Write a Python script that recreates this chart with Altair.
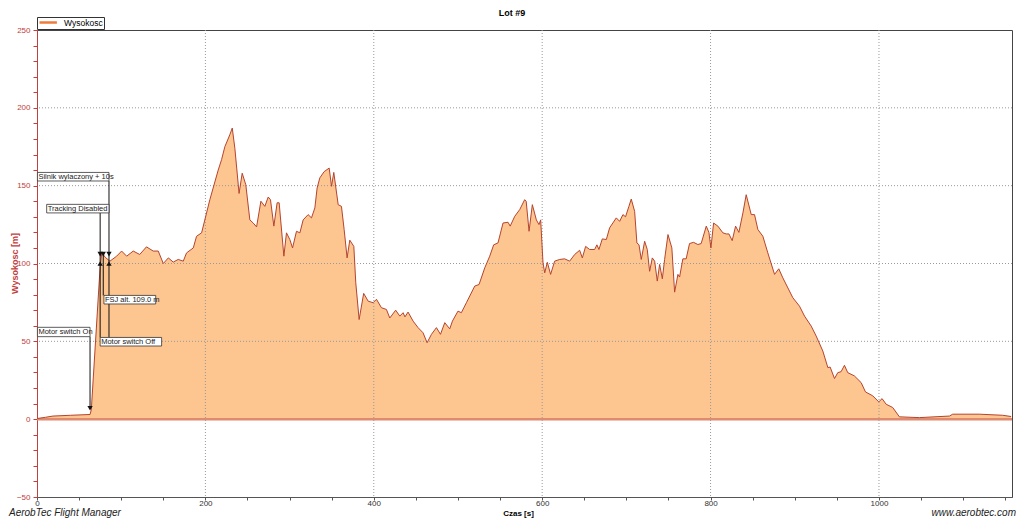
import altair as alt
import pandas as pd

TITLE = "Lot #9"
SERIES = "Wysokosc"
X_TITLE = "Czas [s]"
Y_TITLE = "Wysokosc [m]"
FOOT_LEFT = "AerobTec Flight Manager"
FOOT_RIGHT = "www.aerobtec.com"

times = [0, 10, 19, 40, 63, 64.5, 75, 77, 81, 86.6, 94.6, 100.5, 106.5, 114.3, 122, 130, 138, 144,
         150, 156, 161.8, 167.7, 173.7, 177.6, 185.6, 189.5, 195.5, 205.3, 215.2, 219.2, 223.1, 229,
         231.9, 235, 240, 243.7, 248, 252.8, 256.8, 260.8, 265.9, 270.6, 274.6, 277.3, 281.3, 285.2,
         287.6, 293.2, 296.3, 300.3, 303.5, 308.2, 312.2, 316.1, 322, 326, 330, 332.7, 335.9, 341,
         347, 349.8, 352.5, 357.7, 361.6, 364.8, 368.3, 371.5, 376.3, 378.6, 382.6, 388, 393.3,
         399.2, 403.2, 409.1, 415, 419, 426, 430.9, 434.8, 437, 440.7, 446.7, 452.6, 458.5, 463.3,
         468.5, 474.4, 479.2, 484.3, 490.2, 493.4, 500, 504, 510, 519.9, 525, 531.8, 537.7, 542.4,
         547.5, 553.5, 559.4, 562, 567.4, 573.3, 579.2, 581, 584.4, 588.3, 593.1, 596.2, 598.2, 601,
         603, 606.1, 610, 614.8, 620.8, 626.7, 632.6, 638.6, 644.5, 647.7, 651.6, 656.4, 662.3, 665,
         667.4, 671.4, 676.2, 680.1, 688, 692, 695.9, 699, 703, 705.8, 709.8, 712.5, 715, 717.7,
         721.7, 724.8, 727.6, 730.8, 733.6, 736.7, 739.5, 742.7, 745.4, 749.4, 754, 757.3, 761.2,
         763.2, 767.1, 771, 775, 779.7, 784.9, 788.8, 794.9, 798, 800.4, 803.6, 808.7, 814.6, 818.6,
         821.8, 825.7, 829.7, 833.6, 838.4, 842.3, 848.3, 852.2, 856.2, 862.1, 868, 876, 881, 885.8,
         897.7, 905.6, 911.6, 919.5, 925.4, 933.3, 939.3, 942, 947.2, 951.1, 955, 959, 962.9, 970.8,
         978.8, 984, 992.6, 999.8, 1003.7, 1008.5, 1016.3, 1024.3, 1048, 1083.7, 1087.6, 1119, 1147,
         1157]
alts = [0.4, 1.2, 2, 2.5, 3, 6, 98, 107, 104, 101.5, 104.7, 108, 104.7, 108, 105.8, 110.7, 108, 108,
        100, 103.6, 100.9, 102.6, 101.5, 106.8, 110, 117.5, 119.7, 141, 160, 166.7, 175, 182.7,
        187, 174, 145, 158, 150.6, 128, 126, 123.5, 140, 136.7, 142.7, 141, 124, 139,
        139, 104.7, 119.7, 115.4, 110, 120.7, 119.7, 128, 131.4, 129.3, 135.7, 148.5, 155, 159,
        161.3, 149.6, 158.5, 137.8, 136.7, 121.8, 103.6, 115, 111, 87.6, 64, 80.8, 75.8,
        74.8, 77, 71.6, 70.5, 65, 70, 66.2, 68.4, 65.7, 68.8, 63, 58.8, 55.5, 49.1,
        54.5, 58.8, 54.5, 62, 58, 63, 69.4, 68.4, 74.8, 85.5, 86.5, 97.2, 104.7, 112,
        113.2, 126, 126.5, 124, 130.3, 134.6, 141, 140, 120.7, 137.8, 128, 125, 128, 100.4,
        94, 100.8, 93, 101.5, 102.6, 103, 101.5, 105.8, 108.5, 103.6, 111, 109, 109, 112,
        109, 115.8, 115.4, 122.9, 129.3, 127.1, 131.4, 130, 136.7, 141.4, 133.5, 113.2, 112, 102.6,
        114.3, 109, 95, 103.6, 101.5, 88.7, 99.4, 90.2, 102.6, 118.6, 110, 81.6, 93,
        91.3, 103, 103, 112.8, 113.6, 112.2, 112.8, 124, 120, 110, 126, 124, 119.7, 119,
        119, 114.7, 124, 120, 132.5, 144.2, 131.4, 131.4, 121.8, 117.5, 106.8, 93, 96.6, 90.8,
        78, 72.6, 66.2, 59.8, 53.4, 43.8, 33.1, 33.5, 26.1, 29.9, 30.5, 34.6, 29.9, 27.8,
        23.5, 17.5, 15, 11.1, 13.2, 9.6, 7.5, 1.5, 1, 2, 3.2, 3.2, 2.5,
        1.7]

x_ticks = list(range(0, 1151, 50))
y_ticks = list(range(-50, 251, 10))
x_grid = [200, 400, 600, 800, 1000]
y_grid = [50, 100, 150, 200]
x_domain = [0, 1158]
y_domain = [-50, 250]

# annotation boxes (event labels)
ann_labels = ["Motor switch On", "Silnik wylaczony + 10s", "Tracking Disabled",
              "FSJ alt. 109.0 m", "Motor switch Off"]
ann_t0 = [0.5, 0.5, 11.5, 79.5, 75]
ann_t1 = [63, 85.5, 85.5, 141, 148]
ann_v0 = [53, 153, 132.5, 74, 47]
ann_v1 = [59, 158.5, 138, 79.5, 52.5]

# connector lines
conn_t = [63, 75, 78.7, 85.5]
conn_v0 = [7, 52.5, 79.5, 52.5]
conn_v1 = [53, 132.5, 106, 153]

# event markers
mark_t = [63, 75, 78.7, 85.5, 75, 85.5]
mark_v = [7, 106, 106, 106, 100, 100]
mark_dir = ["down", "down", "down", "down", "up", "up"]

FONT = "Liberation Sans"
RED = "#C04040"

df = pd.DataFrame({"t": times, "v": alts, "series": SERIES})
xs = alt.Scale(domain=x_domain, nice=False, zero=False)
ys = alt.Scale(domain=y_domain, nice=False, zero=False)

x_axis = alt.Axis(values=x_ticks, format="d",
                  labelExpr="datum.value % 200 == 0 ? datum.label : ''",
                  grid=False, tickSize=3, tickColor="#555", domainColor="#555",
                  labelColor="#333", labelFontSize=8, labelFont=FONT, labelPadding=-1,
                  labelOverlap=False, labelFlush=False, title=X_TITLE, titleFont=FONT,
                  titleFontSize=8, titleFontWeight="bold", titleColor="#000",
                  titleBaseline="alphabetic", titleY=18, titleX=481, titleAlign="center")
y_axis = alt.Axis(values=y_ticks, format="d",
                  labelExpr="datum.value % 50 == 0 ? datum.label : ''",
                  grid=False, tickSize=4, tickColor=RED, domainColor=RED,
                  labelColor=RED, labelFontSize=8, labelFont=FONT, labelPadding=3,
                  labelOverlap=False, labelFlush=False, title=Y_TITLE, titleFont=FONT,
                  titleFontSize=9, titleFontWeight="bold", titleColor=RED,
                  titleX=-23, titleY=233, titleAngle=270, titleBaseline="middle",
                  titleAlign="center")


def X(field):
    return alt.X(field, scale=xs, axis=x_axis)


def Y(field):
    return alt.Y(field, scale=ys, axis=y_axis)


area = alt.Chart(df).mark_area(color="#FDC590", opacity=1).encode(
    x=X("t:Q"), y=Y("v:Q"), y2=alt.datum(0))

gx = alt.Chart(pd.DataFrame({"g": x_grid})).mark_rule(
    color="#999", strokeDash=[1, 2], strokeWidth=1).encode(x=X("g:Q"))
gy = alt.Chart(pd.DataFrame({"g": y_grid})).mark_rule(
    color="#999", strokeDash=[1, 2], strokeWidth=1).encode(y=Y("g:Q"))

zero = alt.Chart(pd.DataFrame({"z": [0]})).mark_rule(
    color="#E08A70", strokeWidth=2.5).encode(y=Y("z:Q"))

line = alt.Chart(df).mark_line(color="#B5442E", strokeWidth=1).encode(
    x=X("t:Q"), y=Y("v:Q"))

conn_df = pd.DataFrame({"t": conn_t, "v0": conn_v0, "v1": conn_v1})
conns = alt.Chart(conn_df).mark_rule(color="#111", strokeWidth=1).encode(
    x=X("t:Q"), y=Y("v0:Q"), y2="v1:Q")

ann_df = pd.DataFrame({"label": ann_labels, "t0": ann_t0, "t1": ann_t1,
                       "v0": ann_v0, "v1": ann_v1})
ann_df["vm"] = (ann_df["v0"] + ann_df["v1"]) / 2
boxes = alt.Chart(ann_df).mark_rect(fill="white", stroke="#333", strokeWidth=0.8).encode(
    x=X("t0:Q"), x2="t1:Q", y=Y("v0:Q"), y2="v1:Q")
texts = alt.Chart(ann_df).mark_text(align="left", baseline="middle", dx=1,
                                    fontSize=7.5, font=FONT, color="#222").encode(
    x=X("t0:Q"), y=Y("vm:Q"), text="label:N")

mk_df = pd.DataFrame({"t": mark_t, "v": mark_v, "dir": mark_dir})
markers = alt.Chart(mk_df).mark_point(filled=True, size=28, color="#111", opacity=1).encode(
    x=X("t:Q"), y=Y("v:Q"),
    shape=alt.Shape("dir:N", scale=alt.Scale(domain=["down", "up"],
                                             range=["triangle-down", "triangle-up"]),
                    legend=None))

legend_layer = alt.Chart(df.head(1)).mark_line(strokeWidth=2.5).encode(
    x=X("t:Q"), y=Y("v:Q"),
    color=alt.Color("series:N", scale=alt.Scale(range=["#F07A3A"]),
                    legend=alt.Legend(title=None, orient="none", legendX=0, legendY=-13,
                                      symbolType="M-1,0H4.8", symbolSize=36,
                                      symbolStrokeWidth=2.5, labelOffset=17,
                                      labelFontSize=8.5, labelFont=FONT, labelColor="#000",
                                      strokeColor="#333", fillColor="white", padding=1,
                                      cornerRadius=0)))

title_layer = alt.Chart(pd.DataFrame({"txt": [TITLE]})).mark_text(
    fontWeight="bold", fontSize=9, font=FONT, align="center", baseline="top",
    color="#000").encode(x=alt.value(475), y=alt.value(-21), text="txt:N")
foot_l = alt.Chart(pd.DataFrame({"txt": [FOOT_LEFT]})).mark_text(
    fontStyle="italic", fontSize=10, font=FONT, align="left", baseline="alphabetic",
    color="#222").encode(x=alt.value(-28), y=alt.value(486), text="txt:N")
foot_r = alt.Chart(pd.DataFrame({"txt": [FOOT_RIGHT]})).mark_text(
    fontStyle="italic", fontSize=10, font=FONT, align="right", baseline="alphabetic",
    color="#222").encode(x=alt.value(979), y=alt.value(486), text="txt:N")

chart = alt.layer(area, gx, gy, zero, line, conns, boxes, texts, markers, legend_layer,
                  title_layer, foot_l, foot_r).properties(
    width=975, height=467,
    autosize=alt.AutoSizeParams(type="none"),
    padding={"left": 29, "top": 22, "right": 4, "bottom": 21},
    background="white",
).configure_view(stroke="#444", strokeWidth=1)

chart.save("out.html", embed_options={"renderer": "svg", "actions": False})
